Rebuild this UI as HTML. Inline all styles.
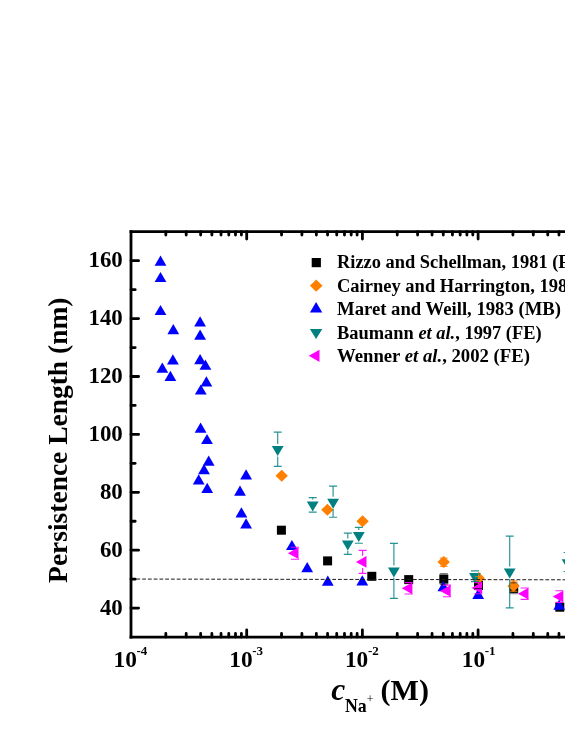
<!DOCTYPE html>
<html><head><meta charset="utf-8"><title>Persistence length</title>
<style>
html,body{margin:0;padding:0;background:#fff;}
body{width:565px;height:731px;overflow:hidden;}
svg{display:block;will-change:transform;}
text{font-family:"Liberation Serif",serif;font-weight:bold;fill:#000;}
</style></head><body>
<svg width="565" height="731" viewBox="0 0 565 731">
<rect width="565" height="731" fill="#fff"/>

<rect x="276.90" y="525.70" width="9.0" height="9.0" fill="#000"/>
<rect x="323.10" y="556.40" width="9.0" height="9.0" fill="#000"/>
<rect x="367.30" y="571.80" width="9.0" height="9.0" fill="#000"/>
<rect x="404.20" y="575.10" width="9.0" height="9.0" fill="#000"/>
<rect x="439.30" y="574.60" width="9.0" height="9.0" fill="#000"/>
<rect x="474.00" y="581.00" width="9.0" height="9.0" fill="#000"/>
<rect x="509.20" y="583.90" width="9.0" height="9.0" fill="#000"/>
<rect x="555.30" y="602.70" width="9.0" height="9.0" fill="#000"/>
<path d="M275.50 475.70L281.70 469.70L287.90 475.70L281.70 481.70Z" fill="#ff8000"/>
<path d="M321.20 509.70L327.40 503.70L333.60 509.70L327.40 515.70Z" fill="#ff8000"/>
<path d="M356.40 521.20L362.60 515.20L368.80 521.20L362.60 527.20Z" fill="#ff8000"/>
<path d="M437.50 562.10L443.70 556.10L449.90 562.10L443.70 568.10Z" fill="#ff8000"/>
<path d="M472.50 578.30L478.70 572.30L484.90 578.30L478.70 584.30Z" fill="#ff8000"/>
<path d="M507.30 586.10L513.50 580.10L519.70 586.10L513.50 592.10Z" fill="#ff8000"/>
<path d="M160.50 255.50L166.40 265.70L154.60 265.70Z" fill="#0000ff"/>
<path d="M160.50 271.90L166.40 282.10L154.60 282.10Z" fill="#0000ff"/>
<path d="M160.50 304.90L166.40 315.10L154.60 315.10Z" fill="#0000ff"/>
<path d="M173.30 324.00L179.20 334.20L167.40 334.20Z" fill="#0000ff"/>
<path d="M200.10 316.20L206.00 326.40L194.20 326.40Z" fill="#0000ff"/>
<path d="M200.10 329.50L206.00 339.70L194.20 339.70Z" fill="#0000ff"/>
<path d="M172.90 354.20L178.80 364.40L167.00 364.40Z" fill="#0000ff"/>
<path d="M200.10 354.00L206.00 364.20L194.20 364.20Z" fill="#0000ff"/>
<path d="M162.30 362.50L168.20 372.70L156.40 372.70Z" fill="#0000ff"/>
<path d="M205.40 359.60L211.30 369.80L199.50 369.80Z" fill="#0000ff"/>
<path d="M170.40 370.70L176.30 380.90L164.50 380.90Z" fill="#0000ff"/>
<path d="M206.40 376.20L212.30 386.40L200.50 386.40Z" fill="#0000ff"/>
<path d="M200.80 384.40L206.70 394.60L194.90 394.60Z" fill="#0000ff"/>
<path d="M200.60 422.60L206.50 432.80L194.70 432.80Z" fill="#0000ff"/>
<path d="M207.00 433.90L212.90 444.10L201.10 444.10Z" fill="#0000ff"/>
<path d="M208.70 455.60L214.60 465.80L202.80 465.80Z" fill="#0000ff"/>
<path d="M204.00 464.10L209.90 474.30L198.10 474.30Z" fill="#0000ff"/>
<path d="M198.70 474.30L204.60 484.50L192.80 484.50Z" fill="#0000ff"/>
<path d="M207.20 482.80L213.10 493.00L201.30 493.00Z" fill="#0000ff"/>
<path d="M246.10 469.20L252.00 479.40L240.20 479.40Z" fill="#0000ff"/>
<path d="M240.00 485.60L245.90 495.80L234.10 495.80Z" fill="#0000ff"/>
<path d="M241.40 507.20L247.30 517.40L235.50 517.40Z" fill="#0000ff"/>
<path d="M246.10 518.20L252.00 528.40L240.20 528.40Z" fill="#0000ff"/>
<path d="M291.90 539.90L297.80 550.10L286.00 550.10Z" fill="#0000ff"/>
<path d="M307.20 562.00L313.10 572.20L301.30 572.20Z" fill="#0000ff"/>
<path d="M327.80 575.60L333.70 585.80L321.90 585.80Z" fill="#0000ff"/>
<path d="M362.30 575.30L368.20 585.50L356.40 585.50Z" fill="#0000ff"/>
<path d="M443.40 581.10L449.30 591.30L437.50 591.30Z" fill="#0000ff"/>
<path d="M478.20 588.70L484.10 598.90L472.30 598.90Z" fill="#0000ff"/>
<path d="M559.20 599.60L565.10 609.80L553.30 609.80Z" fill="#0000ff"/>
<path d="M271.80 446.00L283.60 446.00L277.70 456.00Z" fill="#008080"/>
<path d="M306.80 501.40L318.60 501.40L312.70 511.40Z" fill="#008080"/>
<path d="M327.20 498.70L339.00 498.70L333.10 508.70Z" fill="#008080"/>
<path d="M341.90 540.40L353.70 540.40L347.80 550.40Z" fill="#008080"/>
<path d="M352.90 532.10L364.70 532.10L358.80 542.10Z" fill="#008080"/>
<path d="M388.00 567.40L399.80 567.40L393.90 577.40Z" fill="#008080"/>
<path d="M469.10 573.00L480.90 573.00L475.00 583.00Z" fill="#008080"/>
<path d="M503.80 568.60L515.60 568.60L509.70 578.60Z" fill="#008080"/>
<path d="M561.70 559.30L573.50 559.30L567.60 569.30Z" fill="#008080"/>
<path d="M287.90 553.20L298.50 547.30L298.50 559.10Z" fill="#ff00ff"/>
<path d="M355.90 561.90L366.50 556.00L366.50 567.80Z" fill="#ff00ff"/>
<path d="M401.80 588.30L412.40 582.40L412.40 594.20Z" fill="#ff00ff"/>
<path d="M440.10 590.90L450.70 585.00L450.70 596.80Z" fill="#ff00ff"/>
<path d="M471.60 587.90L482.20 582.00L482.20 593.80Z" fill="#ff00ff"/>
<path d="M517.90 593.70L528.50 587.80L528.50 599.60Z" fill="#ff00ff"/>
<path d="M552.70 596.60L563.30 590.70L563.30 602.50Z" fill="#ff00ff"/>
<path d="M439.80 573.80H447.80M439.80 584.30H447.80M443.80 573.80V574.10M443.80 584.10V584.30" stroke="#000" stroke-width="0.9" fill="none" opacity="0.8"/>
<path d="M474.50 582.40H482.50M474.50 588.60H482.50" stroke="#000" stroke-width="0.9" fill="none" opacity="0.9"/>
<path d="M509.70 582.80H517.70M509.70 593.70H517.70M513.70 582.80V583.40M513.70 593.40V593.70" stroke="#000" stroke-width="0.9" fill="none" opacity="0.6"/>
<path d="M439.80 558.10H447.60M439.80 566.30H447.60" stroke="#ff8000" stroke-width="1.0" fill="none" opacity="1"/>
<path d="M509.60 581.00H517.40M509.60 591.20H517.40" stroke="#ff8000" stroke-width="1.0" fill="none" opacity="1"/>
<path d="M478.7 572.2V581.1M475.1 576.6H480.2M475.1 580.4H480.2" stroke="#f08000" stroke-width="1" fill="none" opacity="0.9"/>
<path d="M273.70 432.10H281.70M273.70 466.40H281.70M277.70 432.10V444.00M277.70 456.40V466.40" stroke="#008080" stroke-width="1.15" fill="none" opacity="0.85"/>
<path d="M308.70 497.60H316.70M308.70 512.10H316.70M312.70 497.60V499.40M312.70 511.80V512.10" stroke="#008080" stroke-width="1.15" fill="none" opacity="0.85"/>
<path d="M329.10 486.10H337.10M329.10 517.20H337.10M333.10 486.10V496.70M333.10 509.10V517.20" stroke="#008080" stroke-width="1.15" fill="none" opacity="0.85"/>
<path d="M343.80 533.10H351.80M343.80 554.30H351.80M347.80 533.10V538.40M347.80 550.80V554.30" stroke="#008080" stroke-width="1.15" fill="none" opacity="0.85"/>
<path d="M354.80 527.40H362.80M354.80 543.20H362.80M358.80 527.40V530.10M358.80 542.50V543.20" stroke="#008080" stroke-width="1.15" fill="none" opacity="0.85"/>
<path d="M389.90 543.40H397.90M389.90 598.40H397.90M393.90 543.40V565.40M393.90 577.80V598.40" stroke="#008080" stroke-width="1.15" fill="none" opacity="0.85"/>
<path d="M471.00 570.90H479.00M471.00 581.60H479.00M475.00 570.90V571.00" stroke="#008080" stroke-width="1.15" fill="none" opacity="0.85"/>
<path d="M505.70 536.10H513.70M505.70 607.90H513.70M509.70 536.10V566.60M509.70 579.00V607.90" stroke="#008080" stroke-width="1.15" fill="none" opacity="0.85"/>
<path d="M563.60 552.50H571.60M563.60 571.50H571.60M567.60 552.50V557.30M567.60 569.70V571.50" stroke="#008080" stroke-width="1.15" fill="none" opacity="0.85"/>
<path d="M291.00 547.20H299.00M291.00 559.20H299.00" stroke="#ff00ff" stroke-width="1.15" fill="none" opacity="0.9"/>
<path d="M358.60 550.40H366.60M358.60 573.30H366.60M362.60 550.40V555.70M362.60 568.10V573.30" stroke="#ff00ff" stroke-width="1.15" fill="none" opacity="0.9"/>
<path d="M404.60 582.60H412.60M404.60 594.00H412.60" stroke="#ff00ff" stroke-width="1.15" fill="none" opacity="0.9"/>
<path d="M443.00 585.10H451.00M443.00 596.70H451.00" stroke="#ff00ff" stroke-width="1.15" fill="none" opacity="0.9"/>
<path d="M474.30 582.60H482.30M474.30 593.70H482.30" stroke="#ff00ff" stroke-width="1.15" fill="none" opacity="0.9"/>
<path d="M520.60 588.00H528.60M520.60 599.40H528.60" stroke="#ff00ff" stroke-width="1.15" fill="none" opacity="0.9"/>
<path d="M555.40 590.70H563.40M555.40 602.40H563.40" stroke="#ff00ff" stroke-width="1.15" fill="none" opacity="0.9"/>
<line x1="130.64" y1="579.05" x2="566" y2="579.8" stroke="#1a1a1a" stroke-width="1.0" stroke-dasharray="3.8 1.96"/>
<path d="M131.0 230.30V638.45" stroke="#000" stroke-width="2.8" fill="none"/>
<path d="M129.6 231.7H566" stroke="#000" stroke-width="2.8" fill="none"/>
<path d="M129.6 637.05H566" stroke="#000" stroke-width="2.8" fill="none"/>
<path d="M131.0 608.10H138.6M131.0 579.15H135.2M131.0 550.20H138.6M131.0 521.25H135.2M131.0 492.30H138.6M131.0 463.35H135.2M131.0 434.40H138.6M131.0 405.45H135.2M131.0 376.50H138.6M131.0 347.55H135.2M131.0 318.60H138.6M131.0 289.65H135.2M131.0 260.70H138.6M165.83 637.05V633.45M165.83 231.7V235.10M186.20 637.05V633.45M186.20 231.7V235.10M200.66 637.05V633.45M200.66 231.7V235.10M211.87 637.05V633.45M211.87 231.7V235.10M221.03 637.05V633.45M221.03 231.7V235.10M228.78 637.05V633.45M228.78 231.7V235.10M235.49 637.05V633.45M235.49 231.7V235.10M241.41 637.05V633.45M241.41 231.7V235.10M246.70 637.05V629.95M246.70 231.7V239.00M281.53 637.05V633.45M281.53 231.7V235.10M301.90 637.05V633.45M301.90 231.7V235.10M316.36 637.05V633.45M316.36 231.7V235.10M327.57 637.05V633.45M327.57 231.7V235.10M336.73 637.05V633.45M336.73 231.7V235.10M344.48 637.05V633.45M344.48 231.7V235.10M351.19 637.05V633.45M351.19 231.7V235.10M357.11 637.05V633.45M357.11 231.7V235.10M362.40 637.05V629.95M362.40 231.7V239.00M397.23 637.05V633.45M397.23 231.7V235.10M417.60 637.05V633.45M417.60 231.7V235.10M432.06 637.05V633.45M432.06 231.7V235.10M443.27 637.05V633.45M443.27 231.7V235.10M452.43 637.05V633.45M452.43 231.7V235.10M460.18 637.05V633.45M460.18 231.7V235.10M466.89 637.05V633.45M466.89 231.7V235.10M472.81 637.05V633.45M472.81 231.7V235.10M478.10 637.05V629.95M478.10 231.7V239.00M512.93 637.05V633.45M512.93 231.7V235.10M533.30 637.05V633.45M533.30 231.7V235.10M547.76 637.05V633.45M547.76 231.7V235.10M558.97 637.05V633.45M558.97 231.7V235.10M568.13 637.05V633.45M568.13 231.7V235.10" stroke="#000" stroke-width="2.8" stroke-linecap="round" fill="none"/>
<text x="122.8" y="614.55" font-size="22.9" text-anchor="end">40</text>
<text x="122.8" y="556.65" font-size="22.9" text-anchor="end">60</text>
<text x="122.8" y="498.75" font-size="22.9" text-anchor="end">80</text>
<text x="122.8" y="440.85" font-size="22.9" text-anchor="end">100</text>
<text x="122.8" y="382.95" font-size="22.9" text-anchor="end">120</text>
<text x="122.8" y="325.05" font-size="22.9" text-anchor="end">140</text>
<text x="122.8" y="267.15" font-size="22.9" text-anchor="end">160</text>
<text x="113.50" y="667.1" font-size="23.4">10</text>
<text x="136.50" y="654.6" font-size="13.0">-4</text>
<text x="229.20" y="667.1" font-size="23.4">10</text>
<text x="252.20" y="654.6" font-size="13.0">-3</text>
<text x="344.90" y="667.1" font-size="23.4">10</text>
<text x="367.90" y="654.6" font-size="13.0">-2</text>
<text x="461.70" y="667.1" font-size="23.4">10</text>
<text x="484.70" y="654.6" font-size="13.0">-1</text>
<text transform="translate(66.9 582.9) rotate(-90)" font-size="27.9" textLength="285.4" lengthAdjust="spacingAndGlyphs">Persistence Length (nm)</text>
<text x="331.2" y="700.1" font-size="31.6" font-style="italic">c</text>
<text x="344.9" y="711.9" font-size="17.8">Na</text>
<text x="366.7" y="703.0" font-size="11.8" font-weight="normal" style="font-weight:normal">+</text>
<text x="380.6" y="700.1" font-size="30.4" textLength="48.4" lengthAdjust="spacingAndGlyphs">(M)</text>
<rect x="311.70" y="258.00" width="9.2" height="9.2" fill="#000"/>
<path d="M309.90 285.70L316.20 279.60L322.50 285.70L316.20 291.80Z" fill="#ff8000"/>
<path d="M316.10 301.90L322.30 312.50L309.90 312.50Z" fill="#0000ff"/>
<path d="M309.90 329.00L322.30 329.00L316.10 339.10Z" fill="#008080"/>
<path d="M308.80 355.80L319.50 349.70L319.50 361.90Z" fill="#ff00ff"/>
<text x="337.0" y="267.9" font-size="18.5" textLength="251.0" lengthAdjust="spacingAndGlyphs">Rizzo and Schellman, 1981 (FE)</text>
<text x="337.0" y="292.1" font-size="18.5">Cairney and Harrington, 1982 (FE)</text>
<text x="337.0" y="315.1" font-size="18.5" textLength="224.0" lengthAdjust="spacingAndGlyphs">Maret and Weill, 1983 (MB)</text>
<text x="337.0" y="338.6" font-size="18.5" textLength="204.7" lengthAdjust="spacingAndGlyphs">Baumann <tspan font-style="italic">et al.</tspan>, 1997 (FE)</text>
<text x="337.0" y="361.8" font-size="18.5" textLength="193.0" lengthAdjust="spacingAndGlyphs">Wenner <tspan font-style="italic">et al.</tspan>, 2002 (FE)</text>
</svg></body></html>
